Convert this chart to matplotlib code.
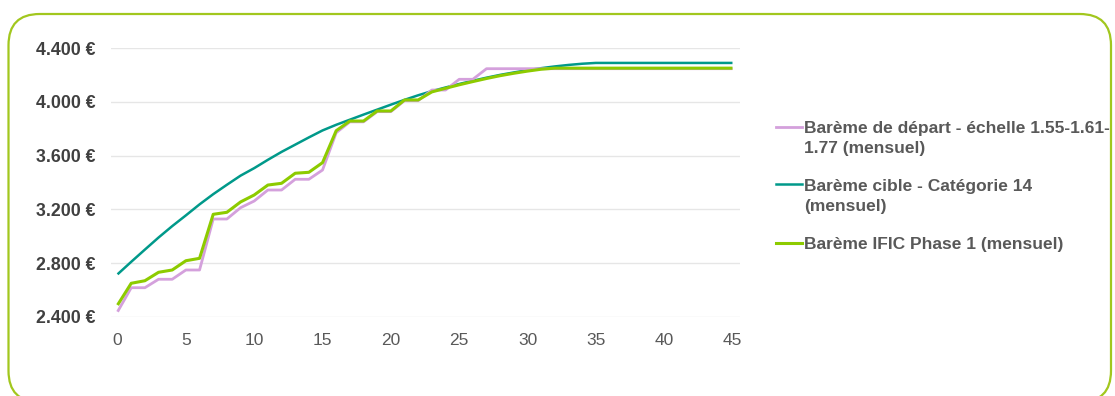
import matplotlib
matplotlib.use("Agg")
import matplotlib.pyplot as plt
from matplotlib.patches import FancyBboxPatch
from matplotlib.lines import Line2D

plt.rcParams['font.family'] = ['Liberation Sans', 'DejaVu Sans']

# Years of seniority (0..45)
years = list(range(46))

# Starting scale 1.55-1.61-1.77 (monthly)
depart = [2437, 2616, 2616, 2679, 2679, 2748, 2748, 3128, 3128, 3212,
          3262, 3344, 3344, 3424, 3424, 3493, 3771, 3852, 3852, 3928,
          3928, 4010, 4010, 4089, 4089, 4169, 4169, 4248, 4248, 4248,
          4248, 4248, 4248, 4248, 4248, 4248, 4248, 4248, 4248, 4248,
          4248, 4248, 4248, 4248, 4248, 4248]

# Target scale - category 14 (monthly)
cible = [2716, 2809, 2900, 2990, 3075, 3155, 3237, 3313, 3383, 3451,
         3507, 3569, 3628, 3682, 3736, 3788, 3830, 3868, 3906, 3943,
         3980, 4016, 4050, 4081, 4108, 4134, 4158, 4181, 4202, 4220,
         4237, 4252, 4265, 4276, 4285, 4291, 4291, 4291, 4291, 4291,
         4291, 4291, 4291, 4291, 4291, 4291]

# IFIC scale phase 1 (monthly)
ific = [2487, 2649, 2668, 2731, 2748, 2817, 2835, 3163, 3178, 3255,
        3307, 3381, 3394, 3469, 3476, 3548, 3786, 3858, 3858, 3933,
        3933, 4015, 4015, 4075, 4102, 4128, 4152, 4175, 4196, 4214,
        4230, 4244, 4252, 4252, 4252, 4252, 4252, 4252, 4252, 4252,
        4252, 4252, 4252, 4252, 4252, 4252]

y_ticks = [2400, 2800, 3200, 3600, 4000, 4400]
y_labels = ["2.400 €", "2.800 €", "3.200 €", "3.600 €", "4.000 €", "4.400 €"]
x_ticks = [0, 5, 10, 15, 20, 25, 30, 35, 40, 45]

series_labels = [
    "Barème de départ - échelle 1.55-1.61-\n1.77 (mensuel)",
    "Barème cible - Catégorie 14\n(mensuel)",
    "Barème IFIC Phase 1 (mensuel)",
]

c_depart = "#D4A0DC"
c_cible = "#00998A"
c_ific = "#8DCB00"
c_frame = "#A2C71E"

W, H = 1115, 396
fig = plt.figure(figsize=(W / 100, H / 100), dpi=100)

# Rounded green frame
frame = FancyBboxPatch((8.5 / W, -6 / H), (1111 - 8.5) / W, (382 + 6) / H,
                       boxstyle="round,pad=0,rounding_size=0.028",
                       transform=fig.transFigure, facecolor="none",
                       edgecolor=c_frame, linewidth=1.6,
                       mutation_aspect=W / H, zorder=-1)
fig.patches.append(frame)

ax = fig.add_axes([111 / W, 1 - 316.7 / H, (740 - 111) / W, (316.7 - 48.3) / H])
ax.set_facecolor("none")

ax.plot(years, cible, color=c_cible, lw=1.8, zorder=3, solid_capstyle="butt")
ax.plot(years, depart, color=c_depart, lw=2.0, zorder=4, solid_capstyle="butt")
ax.plot(years, ific, color=c_ific, lw=2.2, zorder=5, solid_capstyle="butt")

ax.set_xlim(-0.48, 45.55)
ax.set_ylim(2400, 4400)
ax.set_yticks(y_ticks)
ax.set_yticklabels(y_labels, fontweight="bold", color="#404040", fontsize=12.8)
ax.set_xticks(x_ticks)
ax.set_xticklabels([str(x) for x in x_ticks], color="#595959", fontsize=12.5)
ax.tick_params(axis="y", length=0, pad=11)
ax.tick_params(axis="x", length=0, pad=12)
ax.grid(axis="y", color="#E6E6E6", linewidth=1.0)
ax.set_axisbelow(True)
for s in ax.spines.values():
    s.set_visible(False)

# Legend on the right, handles aligned with the first line of each entry
legend_rows = [(126.5, c_depart, 2.0), (184.5, c_cible, 1.8), (242.5, c_ific, 2.2)]
for (ypx, col, lw), lab in zip(legend_rows, series_labels):
    yf = 1 - ypx / H
    fig.add_artist(Line2D([776 / W, 802 / W], [yf, yf], color=col, lw=lw,
                          transform=fig.transFigure))
    fig.text(804 / W, 1 - (ypx - 5.5) / H, lab, ha="left", va="top",
             fontsize=12.5, fontweight="bold", color="#595959",
             linespacing=1.4)

fig.savefig("out.png", dpi=100)
